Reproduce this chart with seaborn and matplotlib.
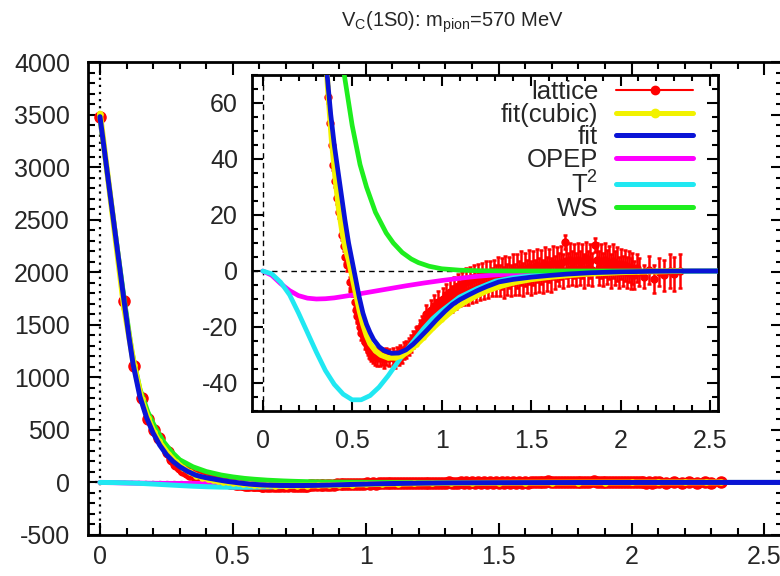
import matplotlib
matplotlib.use("Agg")
import matplotlib.pyplot as plt
from matplotlib.ticker import MultipleLocator, FormatStrFormatter
from matplotlib.lines import Line2D
import seaborn as sns

sns.set_theme(style="ticks")
plt.rcParams["font.family"] = ["Liberation Sans", "DejaVu Sans"]
plt.rcParams["mathtext.fontset"] = "custom"
plt.rcParams["mathtext.rm"] = "Liberation Sans"
plt.rcParams["mathtext.it"] = "Liberation Sans"
plt.rcParams["axes.unicode_minus"] = False

# ---- lattice potential (r in fm, V in MeV) ----
LATTICE_R = [
    0.000, 0.091, 0.128, 0.157, 0.181, 0.203, 0.222, 0.257, 0.272, 0.287,
    0.301, 0.314, 0.327, 0.339, 0.363, 0.374, 0.385, 0.395, 0.406, 0.416,
    0.425, 0.444, 0.454, 0.462, 0.471, 0.488, 0.497, 0.513, 0.521, 0.529,
    0.537, 0.544, 0.552, 0.559, 0.574, 0.581, 0.588, 0.595, 0.602, 0.608,
    0.615, 0.628, 0.641, 0.654, 0.667, 0.679, 0.691, 0.708, 0.726, 0.737,
    0.748, 0.759, 0.770, 0.780, 0.791, 0.801, 0.816, 0.831, 0.841, 0.856,
    0.865, 0.879, 0.893, 0.907, 0.915, 0.926, 0.938, 0.949, 0.960, 0.971,
    0.982, 0.993, 1.005, 1.016, 1.027, 1.038, 1.049, 1.060, 1.071, 1.082,
    1.093, 1.104, 1.115, 1.126, 1.137, 1.148, 1.159, 1.170, 1.181, 1.192,
    1.203, 1.214, 1.225, 1.236, 1.247, 1.258, 1.269, 1.280, 1.291, 1.302,
    1.313, 1.324, 1.335, 1.346, 1.357, 1.368, 1.379, 1.390, 1.401, 1.412,
    1.423, 1.434, 1.445, 1.456, 1.467, 1.478, 1.489, 1.500, 1.511, 1.522,
    1.533, 1.544, 1.555, 1.566, 1.577, 1.588, 1.599, 1.610, 1.621, 1.632,
    1.643, 1.654, 1.665, 1.676, 1.687, 1.698, 1.709, 1.720, 1.731, 1.742,
    1.753, 1.764, 1.775, 1.786, 1.797, 1.808, 1.819, 1.830, 1.841, 1.858,
    1.869, 1.880, 1.891, 1.902, 1.913, 1.924, 1.935, 1.946, 1.957, 1.968,
    1.979, 1.990, 2.001, 2.012, 2.023, 2.034, 2.045, 2.056, 2.067, 2.078,
    2.090, 2.105, 2.130, 2.160, 2.190, 2.215, 2.245, 2.275, 2.300, 2.335,
]
LATTICE_V = [
    3480, 1730, 1105, 805, 600, 500, 425, 285, 225, 180,
    150, 122, 100, 85, 62, 53, 45, 38, 32, 26,
    21, 13, 9, 5, 2, -4, -7, -11, -14, -16,
    -18, -20, -22, -23, -25.5, -26.5, -27.5, -28.5, -29, -29.5,
    -30, -30.5, -31, -31, -30.5, -31.5, -30.5, -31, -30.5, -31.5,
    -30, -30.5, -29.5, -30, -28.5, -28, -27, -26, -24.5, -23,
    -22.5, -20.5, -19, -18, -15.5, -17.5, -14, -16, -12.5, -14.5,
    -11, -13.5, -10, -12, -8.5, -11, -7.5, -10, -6.5, -9,
    -5.5, -8, -5, -7.5, -4, -7, -3.5, -6.5, -3, -6,
    -2.5, -5.5, -2, -5, -1.5, -4.5, -1.5, -4, -1, -3.5,
    -0.5, -3.5, -1, -4, 0, -3, -0.5, -3.5, 0.5, -3,
    0, -2.5, 1, -3, 0.5, -2, 1.5, -2.5, 1, -2,
    2, -1.5, 1.5, -2, 2.5, -1, 2, -1.5, 3, -0.5,
    2.5, 0.5, 3, 0, 10.4, 3.5, 0.5, 4, 1, 3.5,
    0.5, 4, 1, 3.5, 0, 4.5, 1, 3.5, 0.5, 9.3,
    4, 1, 3.5, 0.5, 4, 1.5, 3, 0, 3.5, 1,
    2.5, -0.5, 2.5, 0, 2, -0.5, 1.5, -1, 1, -1.5,
    1, -0.5, -2, 0.5, -3, -0.5, -1.5, 0, -1, 0,
]
LATTICE_ERR = [
    25, 20, 15, 12, 10, 8, 6, 5, 4, 4,
    3, 3, 3, 2, 2, 2, 2, 2, 2, 2,
    2, 2, 2, 2, 2, 2, 2, 2, 2.5, 2.5,
    2.5, 2.5, 2.5, 2.5, 2.5, 2.5, 2.5, 2.5, 2.5, 2.5,
    3, 3, 3, 3, 3, 3, 3, 3, 3, 3,
    3, 3, 3, 3, 3, 3, 3, 3, 3, 3,
    3, 3, 3, 3, 3.5, 3.5, 3.5, 3.5, 4, 4,
    4, 4, 4, 4, 4, 4, 4.5, 4.5, 4.5, 4.5,
    4.5, 4.5, 4.5, 4.5, 5, 5, 5, 5, 5, 5,
    5, 5, 5, 5, 5, 5, 5, 5, 5, 5.5,
    5.5, 5.5, 5.5, 5.5, 5.5, 5.5, 5.5, 5.5, 5.5, 5.5,
    6, 6, 6, 6, 6, 6, 6, 6, 6, 6,
    6, 6, 6, 6, 6, 6, 6, 6, 6, 6,
    6, 6, 6, 6, 2.5, 6, 6, 6, 6, 6,
    6, 6, 6, 6, 6, 6, 6, 6, 6, 2.5,
    6, 6, 6, 6, 6, 6, 6, 6, 6, 6,
    6, 5.5, 5.5, 5.5, 5.5, 5.5, 5.5, 5.5, 5.5, 5,
    5, 5, 4, 5, 5, 5, 5.5, 6, 6, 6,
]

# ---- fitted potentials ----
FIT_R = [0.00, 0.03, 0.06, 0.09, 0.11, 0.125, 0.15, 0.175, 0.20, 0.225,
         0.25, 0.275, 0.30, 0.33, 0.36, 0.38, 0.40, 0.42, 0.44, 0.46,
         0.48, 0.50, 0.52, 0.54, 0.56, 0.58, 0.60, 0.62, 0.65, 0.68,
         0.72, 0.76, 0.80, 0.84, 0.87, 0.92, 0.97, 1.02, 1.06, 1.10,
         1.15, 1.20, 1.25, 1.32, 1.40, 1.50, 1.60, 1.70, 1.84, 2.00,
         2.20, 2.40, 2.60]
FIT_V = [3480, 2900, 2320, 1740, 1370, 1120, 820, 620, 470, 355,
         265, 200, 150, 105, 70, 56, 45, 36, 27, 18,
         10, 3.5, -3, -9.5, -15, -19, -22, -24.5, -27, -28.5,
         -29.4, -29.3, -28.2, -26.2, -24.3, -21, -17.5, -14.3, -12, -10.3,
         -8.6, -7, -5.6, -3.9, -3, -2.2, -1.6, -1.1, -0.6, -0.3,
         -0.1, 0, 0]

CUBIC_R = [0.000, 0.091, 0.128, 0.157, 0.181, 0.203, 0.222, 0.257, 0.287, 0.314,
           0.339, 0.363, 0.385, 0.406, 0.425, 0.444, 0.462, 0.48, 0.50, 0.52,
           0.54, 0.56, 0.58, 0.60, 0.63, 0.66, 0.70, 0.74, 0.78, 0.82,
           0.86, 0.90, 0.95, 1.00, 1.06, 1.12, 1.18, 1.25, 1.32, 1.40,
           1.50, 1.60, 1.70, 1.80, 1.90, 2.00, 2.10, 2.20, 2.28, 2.335]
CUBIC_V = [3510, 1660, 1120, 790, 610, 480, 390, 270, 190, 135,
           95, 66, 47, 33, 22, 14, 8, 4, -2, -8,
           -14, -19, -23, -26, -28.5, -30, -31, -31, -30.2, -28.5,
           -26.3, -23.8, -20.5, -17.5, -14.2, -11.5, -9.3, -7.2, -5.6, -4.2,
           -3, -2.2, -1.6, -1.1, -0.8, -0.5, -0.3, -0.2, -0.1, 0]

OPEP_R = [0.00, 0.05, 0.10, 0.15, 0.20, 0.25, 0.30, 0.35, 0.40, 0.50,
          0.60, 0.70, 0.80, 0.90, 1.00, 1.10, 1.20, 1.30, 1.40, 1.60,
          1.80, 2.00, 2.30, 2.60]
OPEP_V = [0, -1.5, -4.5, -7, -8.8, -9.7, -10, -9.9, -9.6, -8.6,
          -7.5, -6.4, -5.3, -4.3, -3.4, -2.6, -1.9, -1.4, -1.0, -0.5,
          -0.25, -0.1, 0, 0]

T2_R = [0.00, 0.05, 0.10, 0.15, 0.20, 0.25, 0.30, 0.35, 0.40, 0.45,
        0.50, 0.55, 0.60, 0.65, 0.70, 0.75, 0.80, 0.85, 0.90, 0.95,
        1.00, 1.10, 1.20, 1.30, 1.40, 1.50, 1.70, 2.00, 2.30, 2.60]
T2_V = [0, -1, -4, -8.5, -15, -22, -29, -35.5, -40.5, -44,
        -46, -46, -44.5, -41.5, -37.5, -33, -28.5, -24.5, -20.5, -17,
        -14.2, -9.3, -6.2, -3.6, -2.4, -1.7, -0.8, -0.3, -0.1, 0]

WS_R = [0.00, 0.03, 0.06, 0.09, 0.12, 0.15, 0.18, 0.21, 0.24, 0.27,
        0.30, 0.35, 0.40, 0.456, 0.50, 0.544, 0.58, 0.63, 0.69, 0.73,
        0.78, 0.83, 0.87, 0.93, 1.00, 1.10, 1.20, 1.40, 2.60]
WS_V = [3480, 2900, 2320, 1760, 1240, 890, 670, 510, 385, 290,
        215, 148, 103, 70, 52, 38, 30, 21, 13.6, 10,
        6.6, 4.3, 3, 1.7, 0.8, 0.3, 0.1, 0, 0]

RED = "#ff0000"
YELLOW = "#f2f200"
BLUE = "#0a14d6"
MAGENTA = "#ff00ff"
CYAN = "#20e8f2"
GREEN = "#1eee1e"

fig = plt.figure(figsize=(7.8, 5.76), dpi=100)
W, H = 780.0, 576.0


def frame(x0, x1, y0, y1):
    return [x0 / W, 1 - y1 / H, (x1 - x0) / W, (y1 - y0) / H]


ax = fig.add_axes(frame(88, 783, 62, 535))
ins = fig.add_axes(frame(252, 718, 75, 411))


def draw(a, ms, elw, lw):
    a.errorbar(LATTICE_R, LATTICE_V, yerr=LATTICE_ERR, fmt="none",
               ecolor=RED, elinewidth=elw, capsize=1.5, capthick=elw, zorder=2)
    a.plot(LATTICE_R, LATTICE_V, ls="none", marker="o", ms=ms,
           color=RED, mec=RED, zorder=3)
    sns.lineplot(x=OPEP_R, y=OPEP_V, ax=a, color=MAGENTA, lw=lw,
                 estimator=None, sort=False, legend=False, zorder=4)
    sns.lineplot(x=T2_R, y=T2_V, ax=a, color=CYAN, lw=lw,
                 estimator=None, sort=False, legend=False, zorder=5)
    sns.lineplot(x=WS_R, y=WS_V, ax=a, color=GREEN, lw=lw,
                 estimator=None, sort=False, legend=False, zorder=6)
    sns.lineplot(x=CUBIC_R, y=CUBIC_V, ax=a, color=YELLOW, lw=lw + 0.6,
                 marker="o", markersize=ms * 0.6, markeredgewidth=0,
                 estimator=None, sort=False, legend=False, zorder=7)
    sns.lineplot(x=FIT_R, y=FIT_V, ax=a, color=BLUE, lw=lw,
                 estimator=None, sort=False, legend=False, zorder=8)


def style(a, xlim, ylim, ymaj, ymin, xpad, ypad, big, small):
    a.set_xlim(*xlim)
    a.set_ylim(*ylim)
    a.xaxis.set_major_locator(MultipleLocator(0.5))
    a.xaxis.set_minor_locator(MultipleLocator(0.1))
    a.xaxis.set_major_formatter(FormatStrFormatter("%g"))
    a.yaxis.set_major_locator(MultipleLocator(ymaj))
    a.yaxis.set_minor_locator(MultipleLocator(ymin))
    a.yaxis.set_major_formatter(FormatStrFormatter("%g"))
    a.tick_params(which="both", direction="in", top=True, right=True,
                  color="black", width=1.5, labelsize=18)
    a.tick_params(which="major", length=big)
    a.tick_params(which="minor", length=small)
    a.tick_params(axis="x", pad=xpad)
    a.tick_params(axis="y", pad=ypad)
    a.set_xlabel("")
    a.set_ylabel("")
    for s in a.spines.values():
        s.set_linewidth(2)
        s.set_color("black")
    a.set_facecolor("white")


# main panel
ax.axvline(0, color="black", lw=1.6, ls=(0, (1, 2.2)), zorder=1)
ax.axhline(0, color="black", lw=1.6, ls=(0, (1, 2.2)), zorder=1)
draw(ax, ms=8, elw=1.5, lw=3.6)
style(ax, (-0.045, 2.57), (-500, 4000), 500, 100, 7, 13, 9, 5)

# zoomed panel
ins.axvline(0, color="black", lw=1.0, ls=(0, (4, 3)), zorder=1)
ins.axhline(0, color="black", lw=1.0, ls=(0, (4, 3)), zorder=1)
draw(ins, ms=5, elw=1.8, lw=3.4)
style(ins, (-0.06, 2.545), (-50, 70), 20, 5, 13, 10, 8, 4)

handles = [
    Line2D([], [], color=RED, lw=1.5, marker="o", ms=6),
    Line2D([], [], color=YELLOW, lw=3.6, marker="o", ms=6),
    Line2D([], [], color=BLUE, lw=3.6),
    Line2D([], [], color=MAGENTA, lw=3.6),
    Line2D([], [], color=CYAN, lw=3.6),
    Line2D([], [], color=GREEN, lw=3.6),
]
labels = ["lattice", "fit(cubic)", "fit", "OPEP", "T$^2$", "WS"]
ins.legend(handles, labels, loc="upper right", bbox_to_anchor=(0.947, 0.985),
           frameon=False, markerfirst=False, handlelength=3.0,
           handletextpad=0.7, labelspacing=-0.05, borderaxespad=0,
           borderpad=0, fontsize=18.5)

fig.text(452 / W, 1 - 22 / H,
         r"V$_\mathrm{C}$(1S0): m$_\mathrm{pion}$=570 MeV",
         ha="center", va="center", fontsize=14.5)

fig.savefig("out.png", dpi=100, facecolor="white")
